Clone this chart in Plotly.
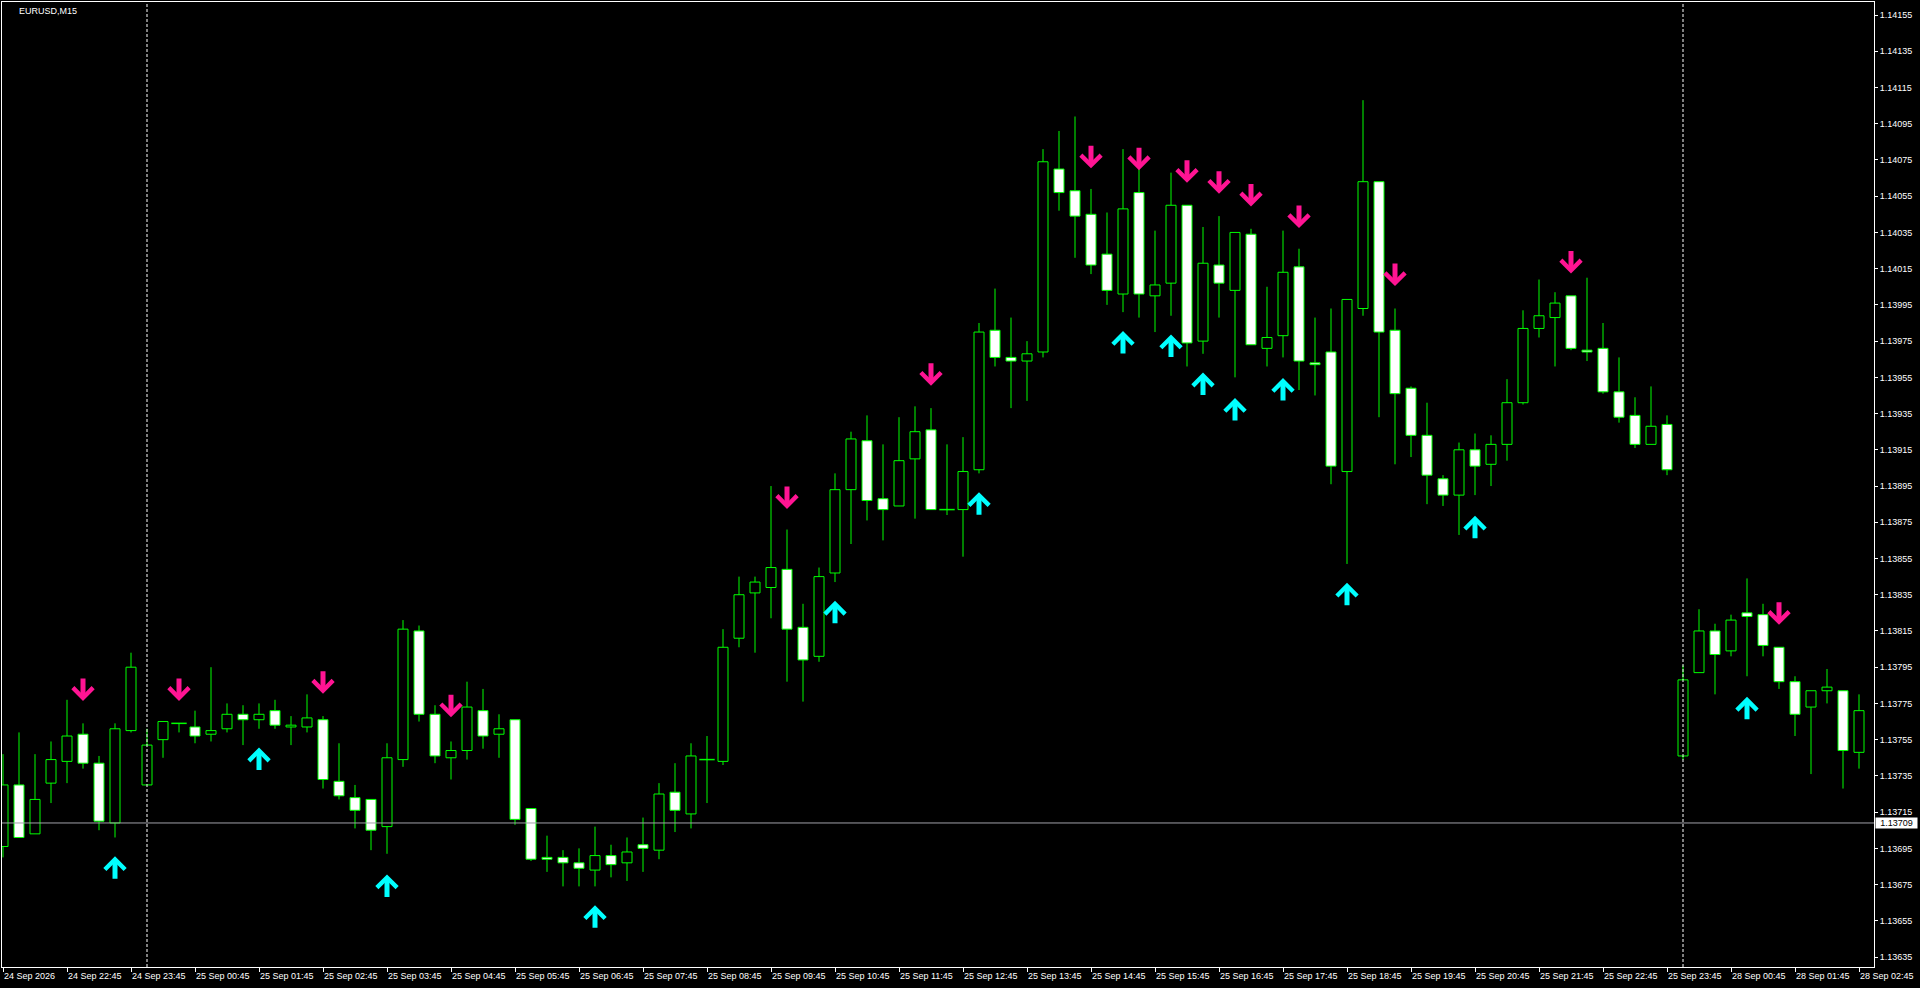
import plotly.graph_objects as go

symbol_title = "EURUSD,M15"

# ---- OHLC data, one entry per M15 bar (bar 0 = 24 Sep 21:45) ----
open_ = [
    1.13696, 1.13730, 1.13703, 1.13731, 1.13743, 1.13758, 1.13742, 1.13709, 1.13760, 1.13730,
    1.13755, 1.13764, 1.13762, 1.13758, 1.13761, 1.13769, 1.13766, 1.13771, 1.13762, 1.13762,
    1.13766, 1.13732, 1.13723, 1.13722, 1.13707, 1.13744, 1.13815, 1.13769, 1.13745, 1.13749,
    1.13771, 1.13758, 1.13766, 1.13717, 1.13690, 1.13690, 1.13687, 1.13683, 1.13691, 1.13687,
    1.13697, 1.13694, 1.13726, 1.13714, 1.13744, 1.13743, 1.13811, 1.13836, 1.13839, 1.13849,
    1.13817, 1.13801, 1.13847, 1.13893, 1.13920, 1.13888, 1.13884, 1.13910, 1.13926, 1.13882,
    1.13882, 1.13904, 1.13981, 1.13966, 1.13964, 1.13969, 1.14070, 1.14058, 1.14045, 1.14023,
    1.14001, 1.14057, 1.14000, 1.14007, 1.14050, 1.13975, 1.14017, 1.14003, 1.14034, 1.13971,
    1.13978, 1.14016, 1.13963, 1.13969, 1.13903, 1.13993, 1.14063, 1.13981, 1.13949, 1.13923,
    1.13899, 1.13890, 1.13915, 1.13907, 1.13918, 1.13941, 1.13982, 1.13988, 1.14000, 1.13970,
    1.13971, 1.13947, 1.13934, 1.13918, 1.13929, 1.13746, 1.13792, 1.13815, 1.13804, 1.13825,
    1.13824, 1.13806, 1.13787, 1.13773, 1.13782, 1.13782, 1.13748,
]
high = [
    1.13747, 1.13759, 1.13747, 1.13754, 1.13777, 1.13764, 1.13746, 1.13764, 1.13803, 1.13761,
    1.13765, 1.13764, 1.13771, 1.13795, 1.13775, 1.13774, 1.13775, 1.13777, 1.13768, 1.13780,
    1.13768, 1.13753, 1.13730, 1.13722, 1.13753, 1.13821, 1.13818, 1.13774, 1.13754, 1.13787,
    1.13783, 1.13769, 1.13766, 1.13717, 1.13702, 1.13694, 1.13695, 1.13707, 1.13697, 1.13701,
    1.13712, 1.13731, 1.13742, 1.13753, 1.13757, 1.13816, 1.13845, 1.13845, 1.13895, 1.13871,
    1.13830, 1.13850, 1.13902, 1.13925, 1.13934, 1.13918, 1.13933, 1.13939, 1.13938, 1.13918,
    1.13922, 1.13985, 1.14004, 1.13988, 1.13975, 1.14081, 1.14091, 1.14099, 1.14059, 1.14046,
    1.14081, 1.14071, 1.14036, 1.14068, 1.14050, 1.14038, 1.14044, 1.14035, 1.14037, 1.14005,
    1.14036, 1.14026, 1.13988, 1.13993, 1.13998, 1.14108, 1.14063, 1.13993, 1.13950, 1.13941,
    1.13901, 1.13919, 1.13924, 1.13923, 1.13954, 1.13992, 1.14009, 1.14002, 1.14000, 1.14010,
    1.13985, 1.13966, 1.13944, 1.13950, 1.13934, 1.13796, 1.13827, 1.13819, 1.13824, 1.13844,
    1.13830, 1.13806, 1.13790, 1.13782, 1.13794, 1.13782, 1.13780,
]
low = [
    1.13690, 1.13701, 1.13703, 1.13720, 1.13731, 1.13739, 1.13705, 1.13701, 1.13759, 1.13730,
    1.13745, 1.13759, 1.13753, 1.13754, 1.13759, 1.13752, 1.13761, 1.13761, 1.13752, 1.13759,
    1.13728, 1.13722, 1.13706, 1.13694, 1.13692, 1.13740, 1.13765, 1.13742, 1.13733, 1.13744,
    1.13750, 1.13745, 1.13708, 1.13688, 1.13682, 1.13674, 1.13674, 1.13674, 1.13679, 1.13677,
    1.13682, 1.13689, 1.13704, 1.13706, 1.13720, 1.13741, 1.13806, 1.13803, 1.13822, 1.13787,
    1.13776, 1.13798, 1.13842, 1.13863, 1.13876, 1.13865, 1.13884, 1.13877, 1.13882, 1.13879,
    1.13856, 1.13902, 1.13961, 1.13938, 1.13942, 1.13966, 1.14047, 1.14021, 1.14012, 1.13995,
    1.13991, 1.13988, 1.13980, 1.13989, 1.13961, 1.13968, 1.13988, 1.13955, 1.13973, 1.13961,
    1.13966, 1.13948, 1.13945, 1.13896, 1.13852, 1.13989, 1.13933, 1.13907, 1.13911, 1.13885,
    1.13884, 1.13868, 1.13890, 1.13895, 1.13909, 1.13940, 1.13977, 1.13961, 1.13970, 1.13964,
    1.13946, 1.13930, 1.13916, 1.13918, 1.13901, 1.13744, 1.13792, 1.13780, 1.13801, 1.13790,
    1.13801, 1.13783, 1.13757, 1.13736, 1.13775, 1.13728, 1.13739,
]
close = [
    1.13730, 1.13701, 1.13722, 1.13744, 1.13757, 1.13742, 1.13710, 1.13761, 1.13795, 1.13752,
    1.13765, 1.13764, 1.13757, 1.13760, 1.13769, 1.13766, 1.13769, 1.13763, 1.13763, 1.13767,
    1.13733, 1.13724, 1.13716, 1.13705, 1.13745, 1.13816, 1.13769, 1.13746, 1.13749, 1.13773,
    1.13757, 1.13761, 1.13711, 1.13689, 1.13689, 1.13687, 1.13684, 1.13691, 1.13686, 1.13693,
    1.13695, 1.13725, 1.13716, 1.13746, 1.13744, 1.13806, 1.13835, 1.13842, 1.13850, 1.13816,
    1.13799, 1.13845, 1.13893, 1.13921, 1.13887, 1.13882, 1.13909, 1.13925, 1.13882, 1.13882,
    1.13903, 1.13980, 1.13966, 1.13964, 1.13968, 1.14074, 1.14057, 1.14044, 1.14017, 1.14003,
    1.14048, 1.14001, 1.14006, 1.14050, 1.13974, 1.14018, 1.14007, 1.14035, 1.13973, 1.13977,
    1.14013, 1.13964, 1.13962, 1.13906, 1.13998, 1.14063, 1.13980, 1.13946, 1.13923, 1.13901,
    1.13890, 1.13915, 1.13906, 1.13918, 1.13941, 1.13982, 1.13989, 1.13996, 1.13971, 1.13969,
    1.13947, 1.13933, 1.13918, 1.13928, 1.13904, 1.13788, 1.13815, 1.13802, 1.13821, 1.13823,
    1.13807, 1.13787, 1.13769, 1.13782, 1.13784, 1.13749, 1.13771,
]
bar_index = list(range(len(open_)))

# ---- time axis labels (every 4th bar) ----
time_tick_bars = [0, 4, 8, 12, 16, 20, 24, 28, 32, 36, 40, 44, 48, 52, 56, 60, 64, 68, 72,
                  76, 80, 84, 88, 92, 96, 100, 104, 108, 112, 116]
time_tick_labels = [
    "24 Sep 2026", "24 Sep 22:45", "24 Sep 23:45", "25 Sep 00:45", "25 Sep 01:45",
    "25 Sep 02:45", "25 Sep 03:45", "25 Sep 04:45", "25 Sep 05:45", "25 Sep 06:45",
    "25 Sep 07:45", "25 Sep 08:45", "25 Sep 09:45", "25 Sep 10:45", "25 Sep 11:45",
    "25 Sep 12:45", "25 Sep 13:45", "25 Sep 14:45", "25 Sep 15:45", "25 Sep 16:45",
    "25 Sep 17:45", "25 Sep 18:45", "25 Sep 19:45", "25 Sep 20:45", "25 Sep 21:45",
    "25 Sep 22:45", "25 Sep 23:45", "28 Sep 00:45", "28 Sep 01:45", "28 Sep 02:45",
]

# ---- price axis labels ----
price_ticks = [1.13635, 1.13655, 1.13675, 1.13695, 1.13715, 1.13735, 1.13755, 1.13775,
               1.13795, 1.13815, 1.13835, 1.13855, 1.13875, 1.13895, 1.13915, 1.13935,
               1.13955, 1.13975, 1.13995, 1.14015, 1.14035, 1.14055, 1.14075, 1.14095,
               1.14115, 1.14135, 1.14155]
price_range = [1.136295, 1.141622]
bar_range = [-0.0625, 116.9375]

# ---- indicator arrows ----
sell_arrow_bars = [5, 11, 20, 28, 49, 58, 68, 71, 74, 76, 78, 81, 87, 98, 111]
sell_arrow_prices = [1.13783, 1.13783, 1.13787, 1.13774, 1.13889, 1.13957, 1.14077, 1.14076,
                     1.14069, 1.14063, 1.14056, 1.14044, 1.14012, 1.14019, 1.13825]
buy_arrow_bars = [7, 16, 24, 37, 52, 61, 70, 73, 75, 77, 80, 84, 92, 109]
buy_arrow_prices = [1.13684, 1.13744, 1.13674, 1.13657, 1.13825, 1.13885, 1.13974, 1.13972,
                    1.13951, 1.13937, 1.13948, 1.13835, 1.13872, 1.13772]

separator_bars = [9, 105]
bid_price = 1.13709

GREEN = "#00ff00"
PINK = "#ff1493"
CYAN = "#00ffff"
FONT = "Liberation Sans, Arial, sans-serif"

fig = go.Figure()

# bodies
bull = [i for i in bar_index if close[i] > open_[i]]
bear = [i for i in bar_index if close[i] < open_[i]]
doji = [i for i in bar_index if close[i] == open_[i]]

fig.add_trace(go.Bar(
    x=bull, base=[open_[i] for i in bull], y=[close[i] - open_[i] for i in bull],
    width=0.625, marker=dict(color="#000000", line=dict(color=GREEN, width=1)),
    hoverinfo="skip"))
fig.add_trace(go.Bar(
    x=bear, base=[close[i] for i in bear], y=[open_[i] - close[i] for i in bear],
    width=0.625, marker=dict(color="#ffffff", line=dict(color=GREEN, width=1)),
    hoverinfo="skip"))

# wicks
wx, wy = [], []
for i in bar_index:
    top = max(open_[i], close[i])
    bot = min(open_[i], close[i])
    if high[i] > top:
        wx += [i, i, None]
        wy += [top, high[i], None]
    if low[i] < bot:
        wx += [i, i, None]
        wy += [low[i], bot, None]
fig.add_trace(go.Scatter(x=wx, y=wy, mode="lines", line=dict(color=GREEN, width=1),
                         hoverinfo="skip"))

# doji bodies
fig.add_trace(go.Scatter(
    x=doji, y=[open_[i] for i in doji], mode="markers",
    marker=dict(symbol="line-ew", size=11, line=dict(color=GREEN, width=1.5)),
    hoverinfo="skip"))

annotations = []
for b, p in zip(sell_arrow_bars, sell_arrow_prices):
    annotations.append(dict(x=b, y=p, xref="x", yref="y", text="", showarrow=True,
                            ax=0, ay=-24, yshift=-12, arrowhead=4, arrowsize=0.78,
                            arrowwidth=5, arrowcolor=PINK))
for b, p in zip(buy_arrow_bars, buy_arrow_prices):
    annotations.append(dict(x=b, y=p, xref="x", yref="y", text="", showarrow=True,
                            ax=0, ay=24, yshift=12, arrowhead=4, arrowsize=0.78,
                            arrowwidth=5, arrowcolor=CYAN))

annotations.append(dict(x=0, y=1, xref="paper", yref="paper", xanchor="left",
                        yanchor="middle", xshift=15, yshift=-9, text=symbol_title,
                        showarrow=False, font=dict(family=FONT, size=9, color="#ffffff")))
annotations.append(dict(x=1, y=bid_price, xref="paper", yref="y", xanchor="left",
                        yanchor="middle", xshift=1, text=f"{bid_price:.5f}",
                        showarrow=False, bgcolor="#ffffff", width=39, height=8,
                        borderpad=1, font=dict(family=FONT, size=9, color="#000000")))

shapes = []
for b in separator_bars:
    shapes.append(dict(type="line", xref="x", yref="paper", x0=b, x1=b, y0=0, y1=1,
                       line=dict(color="#ffffff", width=1, dash="3px,2px")))
shapes.append(dict(type="line", xref="paper", yref="y", x0=0, x1=1, y0=bid_price,
                   y1=bid_price, line=dict(color="#a0a0a8", width=1)))

fig.update_layout(
    width=1920, height=988,
    paper_bgcolor="#000000", plot_bgcolor="#000000",
    margin=dict(l=2, r=46, t=2, b=21),
    showlegend=False, hovermode=False, barmode="overlay",
    annotations=annotations, shapes=shapes,
    font=dict(family=FONT, size=9, color="#ffffff"),
    xaxis=dict(range=bar_range, tickmode="array", tickvals=time_tick_bars,
               ticktext=time_tick_labels, ticks="outside", ticklen=4, tickcolor="#ffffff",
               showline=True, linecolor="#ffffff", linewidth=1, mirror=True,
               showgrid=False, zeroline=False, ticklabelposition="outside right",
               tickfont=dict(family=FONT, size=9, color="#ffffff")),
    yaxis=dict(range=price_range, side="right", tickmode="array", tickvals=price_ticks,
               ticktext=[f"{v:.5f}" for v in price_ticks], ticks="outside", ticklen=3,
               tickcolor="#ffffff", showline=True, linecolor="#ffffff", linewidth=1,
               mirror=True, showgrid=False, zeroline=False,
               tickfont=dict(family=FONT, size=9, color="#ffffff")),
)

fig.write_html("out.html", config={"displayModeBar": False},
               post_script="document.body.style.margin='0';document.body.style.overflow='hidden';")
